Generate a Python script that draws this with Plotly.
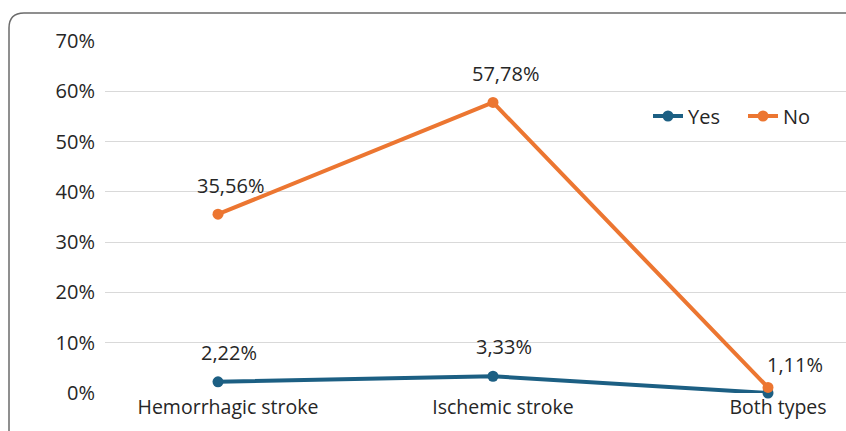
import plotly.graph_objects as go

categories = ["Hemorrhagic stroke", "Ischemic stroke", "Both types"]
yes_values = [2.22, 3.33, 0.0]
no_values = [35.56, 57.78, 1.11]
yes_labels = ["2,22%", "3,33%", ""]
no_labels = ["35,56%", "57,78%", "1,11%"]
y_ticks = [0, 10, 20, 30, 40, 50, 60, 70]
y_tick_labels = [f"{v}%" for v in y_ticks]

YES_COLOR = "#1C5F83"
NO_COLOR = "#EC7631"
FONT = "Open Sans"
TXT = "#262626"
FS = 20

W, H = 846, 431
L, R, T, B = 105, 0, 41, 38
pw, ph = W - L - R, H - T - B

fig = go.Figure()
fig.add_trace(go.Scatter(x=[0, 1, 2], y=yes_values, mode="lines+markers", name="Yes",
                         line=dict(color=YES_COLOR, width=4), marker=dict(size=11, color=YES_COLOR),
                         cliponaxis=False))
fig.add_trace(go.Scatter(x=[0, 1, 2], y=no_values, mode="lines+markers", name="No",
                         line=dict(color=NO_COLOR, width=4), marker=dict(size=11, color=NO_COLOR),
                         cliponaxis=False))

annotations = []
for i, (v, t) in enumerate(zip(no_values, no_labels)):
    if t:
        last = i == len(categories) - 1
        annotations.append(dict(x=i, y=v, text=t, showarrow=False, xref="x", yref="y",
                                xanchor="left" if last else "center", yanchor="bottom",
                                xshift=-3 if last else 12, yshift=7 if last else 13,
                                font=dict(family=FONT, size=FS, color=TXT)))
for i, (v, t) in enumerate(zip(yes_values, yes_labels)):
    if t:
        annotations.append(dict(x=i, y=v, text=t, showarrow=False, xref="x", yref="y",
                                xanchor="center", yanchor="bottom", xshift=11, yshift=14,
                                font=dict(family=FONT, size=FS, color=TXT)))

# rounded border (left + top visible)
rx, ry = 15 / pw, 15 / ph
x0 = (9 - L) / pw
yt = (H - B - 13) / ph
yb = -0.3
path = f"M {x0},{yb} L {x0},{yt - ry} Q {x0},{yt} {x0 + rx},{yt} L 1.2,{yt}"
fig.add_shape(type="path", path=path, xref="paper", yref="paper",
              line=dict(color="#6b6b6b", width=1.5))

fig.update_layout(
    width=W, height=H,
    margin=dict(l=L, r=R, t=T, b=B),
    paper_bgcolor="white", plot_bgcolor="white",
    font=dict(family=FONT, size=FS, color=TXT),
    annotations=annotations,
    showlegend=True,
    legend=dict(orientation="h", x=(648 - L) / pw, y=(H - B - 116) / ph, xanchor="left", yanchor="middle",
                font=dict(family=FONT, size=FS, color=TXT), bgcolor="rgba(0,0,0,0)",
                itemwidth=30, tracegroupgap=0, entrywidth=50),
)
fig.update_xaxes(range=[(L - 218) / 275, (W - 218) / 275], tickmode="array",
                 tickvals=[0, 1, 2], ticktext=categories, showgrid=False, zeroline=False,
                 showline=False, ticks="", ticklabelshift=10,
                 tickfont=dict(family=FONT, size=19.5, color=TXT))
fig.update_yaxes(range=[0, 70], tickmode="array", tickvals=y_ticks, ticktext=y_tick_labels,
                 showgrid=True, gridcolor="#d9d9d9", gridwidth=1, zeroline=False, showline=False,
                 ticks="", ticklabelstandoff=9, tickfont=dict(family=FONT, size=FS, color=TXT))

fig.write_html("out.html", config={"displayModeBar": False},
               post_script="document.body.style.margin='0';")
